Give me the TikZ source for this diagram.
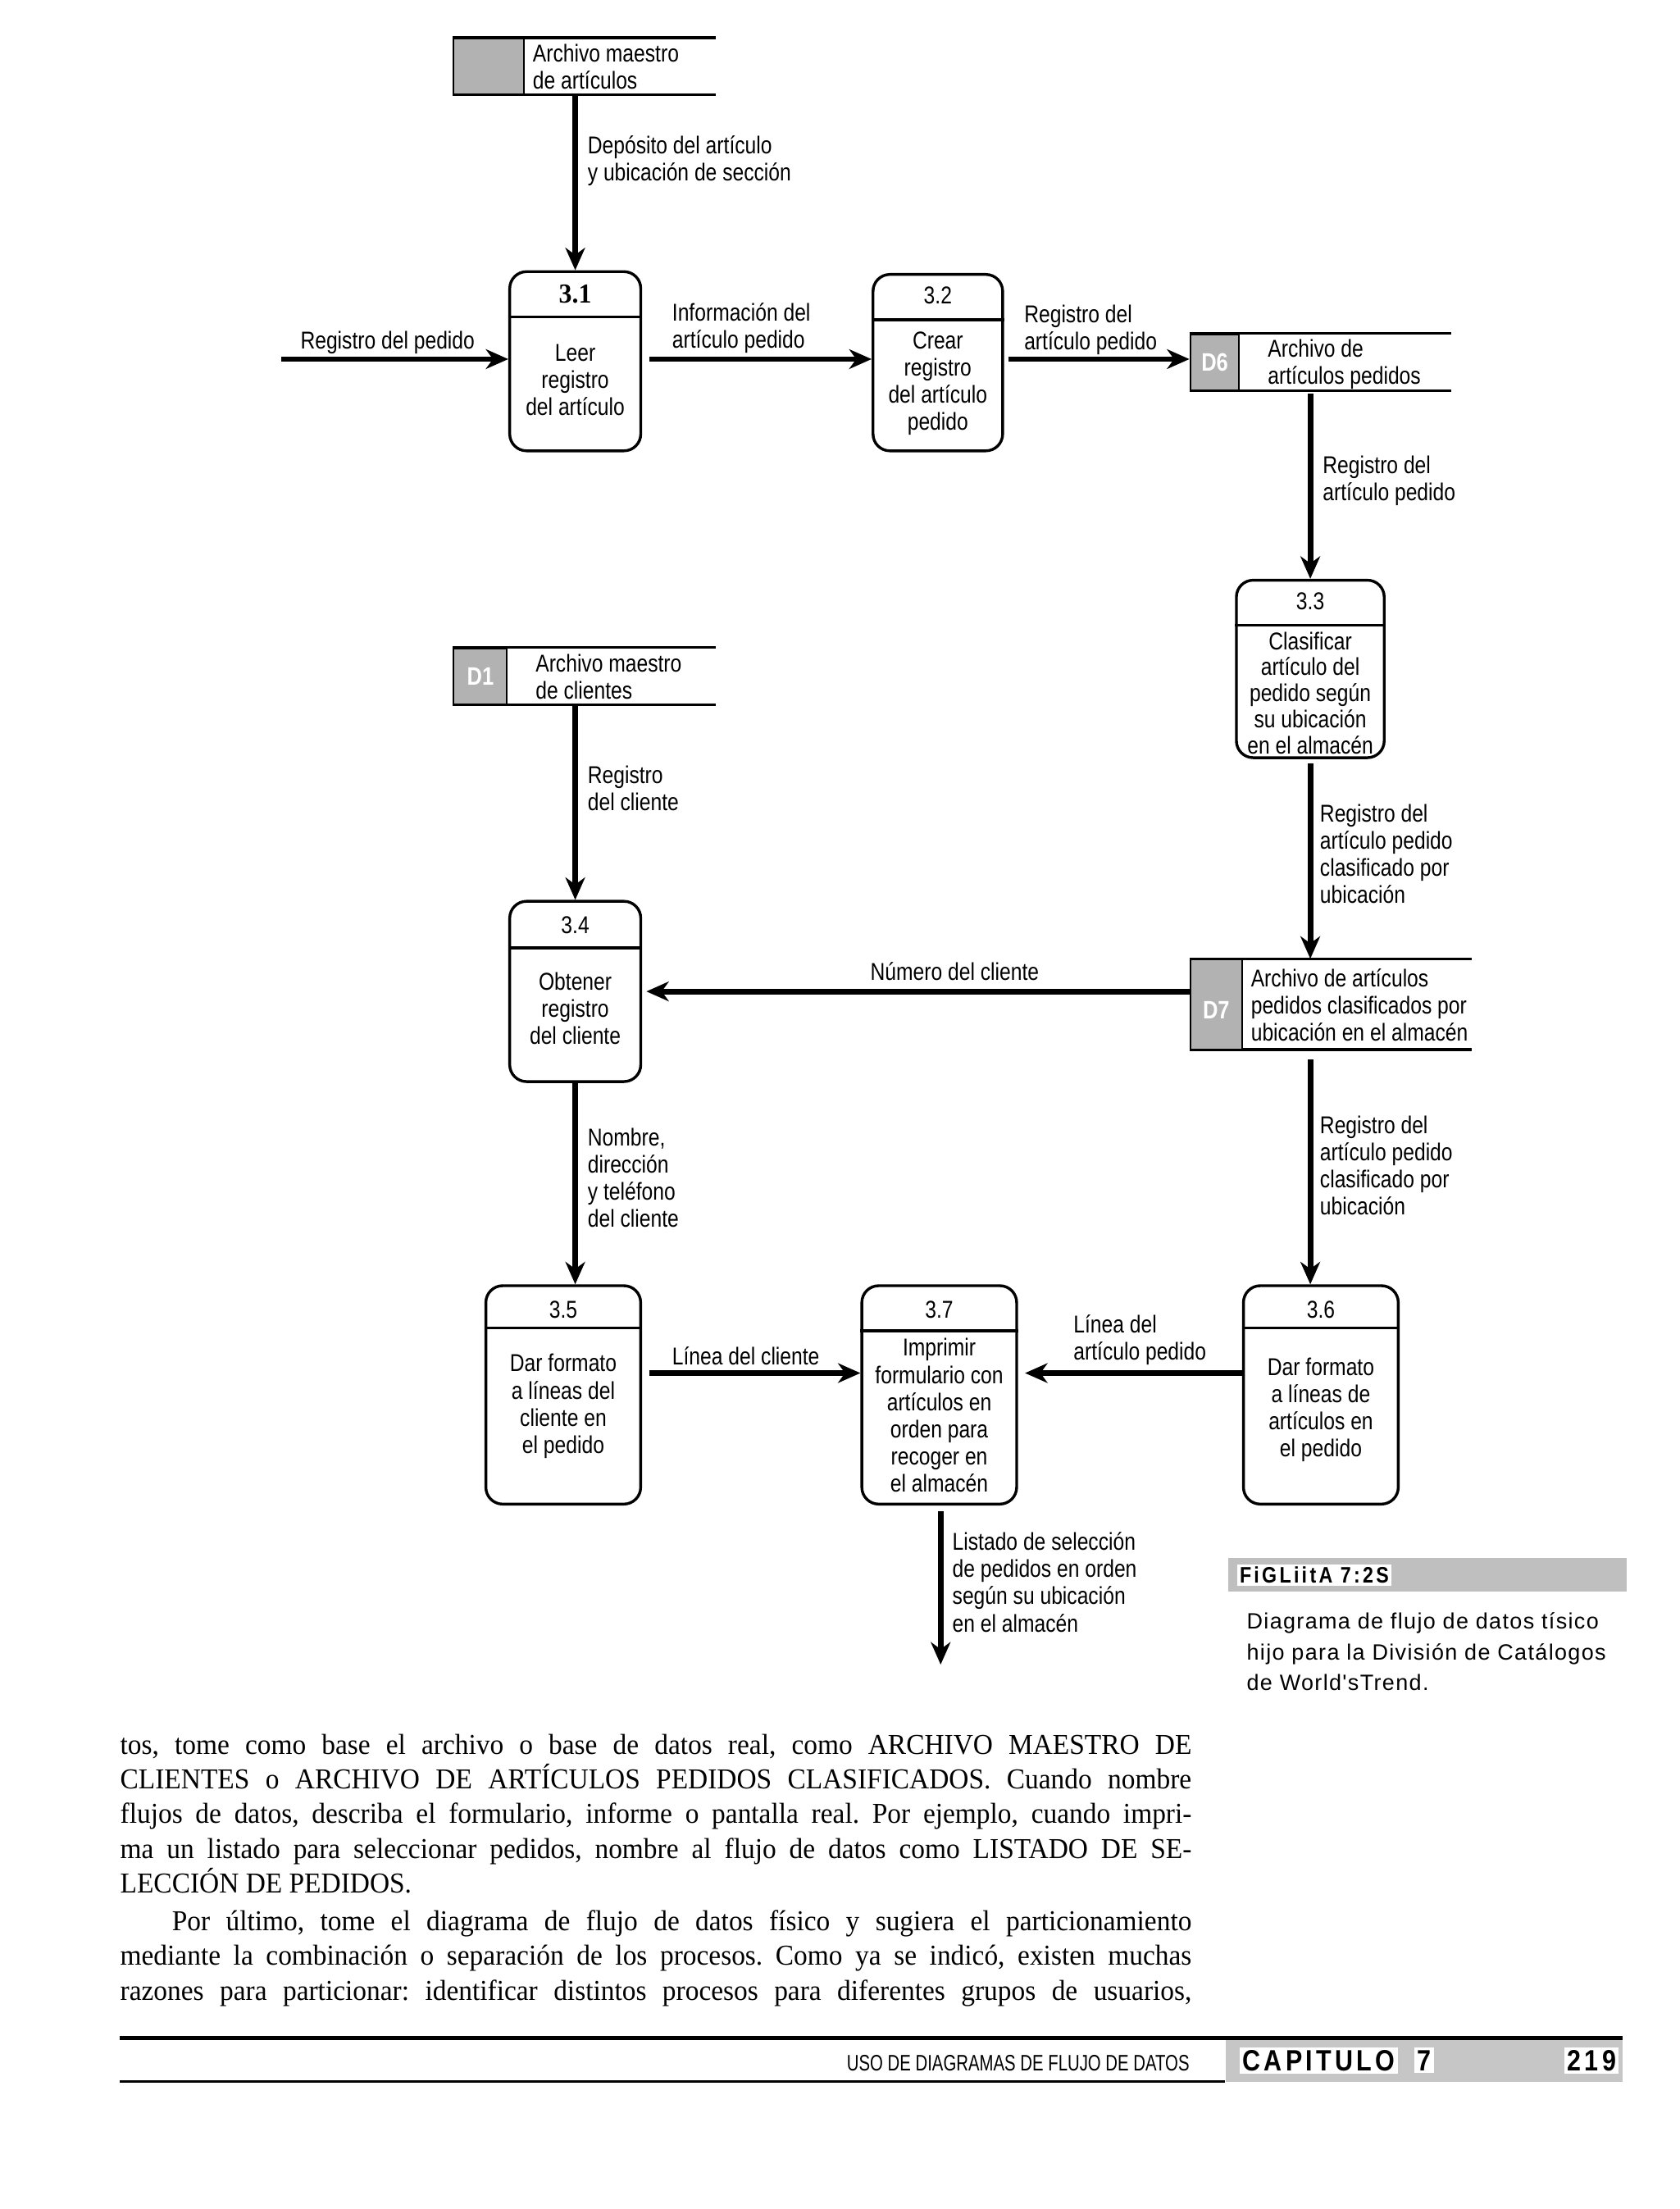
\documentclass[tikz,border=0pt]{standalone}
\usepackage{fontspec}
\setmainfont{Liberation Serif}
\newfontfamily\dsans[FakeStretch=0.83]{Liberation Sans}
\newfontfamily\capsans[LetterSpace=5]{Liberation Sans}
\newfontfamily\bodyserif[FakeStretch=0.95]{Liberation Serif}
\newfontfamily\footsans[FakeStretch=0.745]{Liberation Sans}
\newfontfamily\barsans[LetterSpace=12,FakeStretch=0.85]{Liberation Sans}
\usetikzlibrary{arrows.meta,calc}
\tikzset{
  proc/.style={draw, line width=1pt, rounded corners=6pt, inner sep=0pt},
  hdr/.style={line width=1pt},
  flow/.style={line width=2pt, -{Stealth[length=8pt,width=7pt,inset=2.5pt]}},
  dfont/.style={font=\dsans\fontsize{8.7}{9.7}\selectfont},
  lbl/.style={dfont, align=left, anchor=west, inner sep=0pt},
  ptxt/.style={dfont, align=center, inner sep=0pt},
  pnum/.style={dfont, inner sep=0pt},
  storeline/.style={line width=1pt},
  storearea/.style={inner sep=0pt},
  storeid/.style={fill=gray!60, draw=black, line width=0.6pt, inner sep=0pt, anchor=north west},
  idtxt/.style={text=white, font=\dsans\bfseries\fontsize{9}{10}\selectfont, inner sep=0pt},
}
\begin{document}
\begin{tikzpicture}[x=0.503pt,y=-0.503pt]
\path[use as bounding box, fill=white] (0,0) rectangle (1192.8,1568.6);

% ---------- data stores ----------
\node[storearea, minimum width=93.5pt, minimum height=20pt] (S0) at (415,47) {};
\draw[storeline] (S0.north west) -- (S0.north east);
\draw[storeline] (S0.south west) -- (S0.south east);
\node[storeid, minimum width=25pt, minimum height=20pt] (S0id) at (S0.north west) {};
\node[lbl] (S0t) at (378,47.5) {Archivo maestro\\de artículos};

\node[storearea, minimum width=93pt, minimum height=20pt] (S6) at (937.5,257) {};
\draw[storeline] (S6.north west) -- (S6.north east);
\draw[storeline] (S6.south west) -- (S6.south east);
\node[storeid, minimum width=17.5pt, minimum height=20pt] (S6id) at (S6.north west) {};
\node[idtxt] (S6n) at (S6id.center) {D6};
\node[lbl] (S6t) at (900,258.5) {Archivo de\\artículos pedidos};

\node[storearea, minimum width=93.5pt, minimum height=20pt] (S1) at (415,480) {};
\draw[storeline] (S1.north west) -- (S1.north east);
\draw[storeline] (S1.south west) -- (S1.south east);
\node[storeid, minimum width=19pt, minimum height=20pt] (S1id) at (S1.north west) {};
\node[idtxt] (S1n) at (S1id.center) {D1};
\node[lbl] (S1t) at (380,480.5) {Archivo maestro\\de clientes};

\node[storearea, minimum width=100.5pt, minimum height=32pt] (S7) at (945,713) {};
\draw[storeline] (S7.north west) -- (S7.north east);
\draw[storeline] (S7.south west) -- (S7.south east);
\node[storeid, minimum width=18.5pt, minimum height=32pt] (S7id) at (S7.north west) {};
\node[idtxt] (S7n) at ($(S7id.center)+(0,4)$) {D7};
\node[lbl] (S7t) at (888,713.5) {Archivo de artículos\\pedidos clasificados por\\ubicación en el almacén};

% ---------- processes ----------
\node[proc, minimum width=46.8pt, minimum height=64pt] (P31) at (408.5,256.5) {};
\draw[hdr] (P31.west |- 0,225) -- (P31.east |- 0,225);
\node[pnum, font=\bodyserif\bfseries\fontsize{9.8}{10}\selectfont] (P31n) at (408.5,209) {3.1};
\node[ptxt] (P31t) at (408.5,270) {Leer\\registro\\del artículo};

\node[proc, minimum width=46.3pt, minimum height=63pt] (P32) at (666,257.5) {};
\draw[hdr] (P32.west |- 0,227) -- (P32.east |- 0,227);
\node[pnum] (P32n) at (666,210) {3.2};
\node[ptxt] (P32t) at (666,272.5) {Crear\\registro\\del artículo\\pedido};

\node[proc, minimum width=52.8pt, minimum height=63.4pt] (P33) at (930.5,475) {};
\draw[hdr] (P33.west |- 0,444) -- (P33.east |- 0,444);
\node[pnum] (P33n) at (930.5,427) {3.3};
\node[ptxt, font=\dsans\fontsize{8.7}{9.3}\selectfont] (P33t) at (930.5,492) {Clasificar\\artículo del\\pedido según\\su ubicación\\en el almacén};

\node[proc, minimum width=46.8pt, minimum height=64.4pt] (P34) at (408.5,704) {};
\draw[hdr] (P34.west |- 0,673) -- (P34.east |- 0,673);
\node[pnum] (P34n) at (408.5,657) {3.4};
\node[ptxt] (P34t) at (408.5,716) {Obtener\\registro\\del cliente};

\node[proc, minimum width=55.3pt, minimum height=78pt] (P35) at (400,990.5) {};
\draw[hdr] (P35.west |- 0,943) -- (P35.east |- 0,943);
\node[pnum] (P35n) at (400,930) {3.5};
\node[ptxt] (P35t) at (400,998.5) {Dar formato\\a líneas del\\cliente en\\el pedido};

\node[proc, minimum width=55.3pt, minimum height=78pt] (P37) at (667,990.5) {};
\draw[hdr] (P37.west |- 0,945) -- (P37.east |- 0,945);
\node[pnum] (P37n) at (667,930) {3.7};
\node[ptxt] (P37t) at (667,1005) {Imprimir\\formulario con\\artículos en\\orden para\\recoger en\\el almacén};

\node[proc, minimum width=55.3pt, minimum height=78pt] (P36) at (938,990.5) {};
\draw[hdr] (P36.west |- 0,943) -- (P36.east |- 0,943);
\node[pnum] (P36n) at (938,930) {3.6};
\node[ptxt] (P36t) at (938,1001) {Dar formato\\a líneas de\\artículos en\\el pedido};

% ---------- flows ----------
\coordinate (in1) at (200,255);
\coordinate (out37) at (668,1182);
\coordinate (row5) at (0,975);
\draw[flow] (in1) -- (in1 -| P31.west);
\draw[flow] (P31.north |- S0.south) -- (P31.north);
\draw[flow, shorten <=2.5pt] (P31.east |- in1) -- (P32.west |- in1);
\draw[flow, shorten <=1.5pt] (P32.east |- in1) -- (S6.west |- in1);
\draw[flow, shorten <=1pt] (P33.north |- S6.south) -- (P33.north);
\draw[flow, shorten <=1.5pt] (P33.south) -- (P33.south |- S7.north);
\draw[flow] (S7.west |- P34.east) -- ([xshift=1.5pt]P34.east);
\draw[flow] (P34.north |- S1.south) -- (P34.north);
\draw[flow] (P34.south) -- (P34.south |- P35.north);
\draw[flow, shorten <=3.5pt] (P33.south |- S7.south) -- (P33.south |- P36.north);
\draw[flow, shorten <=2.5pt] (P35.east |- row5) -- (P37.west |- row5);
\draw[flow, shorten >=2.5pt] (P36.west |- row5) -- (P37.east |- row5);
\draw[flow, shorten <=2pt] (P37.south -| out37) -- (out37);

% ---------- flow labels ----------
\node[lbl] (L1) at (213,243) {Registro del pedido};
\node[lbl] (L2) at (417,114) {Depósito del artículo\\y ubicación de sección};
\node[lbl] (L3) at (477,233) {Información del\\artículo pedido};
\node[lbl] (L4) at (727,234.5) {Registro del\\artículo pedido};
\node[lbl] (L5) at (939,341.5) {Registro del\\artículo pedido};
\node[lbl] (L6) at (937,606.5) {Registro del\\artículo pedido\\clasificado por\\ubicación};
\node[dfont, inner sep=0pt] (L7) at (678,690) {Número del cliente};
\node[lbl] (L8) at (417,560) {Registro\\del cliente};
\node[lbl] (L9) at (417,836.5) {Nombre,\\dirección\\y teléfono\\del cliente};
\node[lbl] (L10) at (937,827.5) {Registro del\\artículo pedido\\clasificado por\\ubicación};
\node[lbl] (L11) at (477,963) {Línea del cliente};
\node[lbl] (L12) at (762,951.5) {Línea del\\artículo pedido};
\node[lbl] (L13) at (676,1123.5) {Listado de selección\\de pedidos en orden\\según su ubicación\\en el almacén};

% ---------- caption ----------
\node[fill=gray!50, minimum width=142.3pt, minimum height=12pt, inner sep=0pt, anchor=north west] (figbar) at (872,1106) {};
\node[fill=white, inner sep=1pt, anchor=west, font=\barsans\bfseries\fontsize{8}{9}\selectfont] (figtxt) at (878,1118.5) {FiGLiitA 7:2S};
\node[anchor=west, align=left, inner sep=0pt, font=\capsans\fontsize{7.9}{11}\selectfont] (cap) at (885,1173) {Diagrama de flujo de datos tísico\\hijo para la División de Catálogos\\de World'sTrend.};

% ---------- body text ----------
\node[anchor=north west, inner sep=0pt, text width=382.7pt, align=justify,
      font=\bodyserif\fontsize{10.3}{12.37}\selectfont] (body) at (85,1231) {%
\tolerance=10000\hyphenpenalty=10000\parindent=0pt\frenchspacing
tos, tome como base el archivo o base de datos real, como ARCHIVO MAESTRO DE\linebreak
CLIENTES o ARCHIVO DE ARTÍCULOS PEDIDOS CLASIFICADOS. Cuando nombre\linebreak
flujos de datos, describa el formulario, informe o pantalla real. Por ejemplo, cuando impri-\linebreak
ma un listado para seleccionar pedidos, nombre al flujo de datos como LISTADO DE SE-\linebreak
LECCIÓN DE PEDIDOS.\par\vspace{1.2pt}
\hspace*{18.5pt}Por último, tome el diagrama de flujo de datos físico y sugiera el particionamiento\linebreak
mediante la combinación o separación de los procesos. Como ya se indicó, existen muchas\linebreak
razones para particionar: identificar distintos procesos para diferentes grupos de usuarios,\parfillskip=0pt\par};

% ---------- footer ----------
\coordinate (fl1a) at (85,1447);
\coordinate (fl1b) at (1152,1447);
\coordinate (fl2a) at (85,1478);
\coordinate (fl2b) at (870,1478);
\node[fill=gray!45, minimum width=141.8pt, minimum height=15.6pt, inner sep=0pt, anchor=north west] (capbar) at (870,1447) {};
\draw[line width=1.4pt] (fl1a) -- (fl1b);
\draw[line width=1pt] (fl2a) -- (fl2b);
\node[anchor=east, inner sep=0pt, font=\footsans\fontsize{8}{9}\selectfont] (foot) at (845,1465) {USO DE DIAGRAMAS DE FLUJO DE DATOS};
\node[fill=white, inner sep=1pt, anchor=west, font=\barsans\bfseries\fontsize{10.5}{11}\selectfont] (capit) at (880,1463) {CAPITULO};
\node[fill=white, inner sep=1pt, anchor=west, font=\barsans\bfseries\fontsize{10.5}{11}\selectfont] (capn) at (1004,1463) {7};
\node[fill=white, inner sep=1pt, anchor=east, font=\barsans\bfseries\fontsize{10.5}{11}\selectfont] (pg) at (1150,1463) {219};
\end{tikzpicture}
\end{document}
